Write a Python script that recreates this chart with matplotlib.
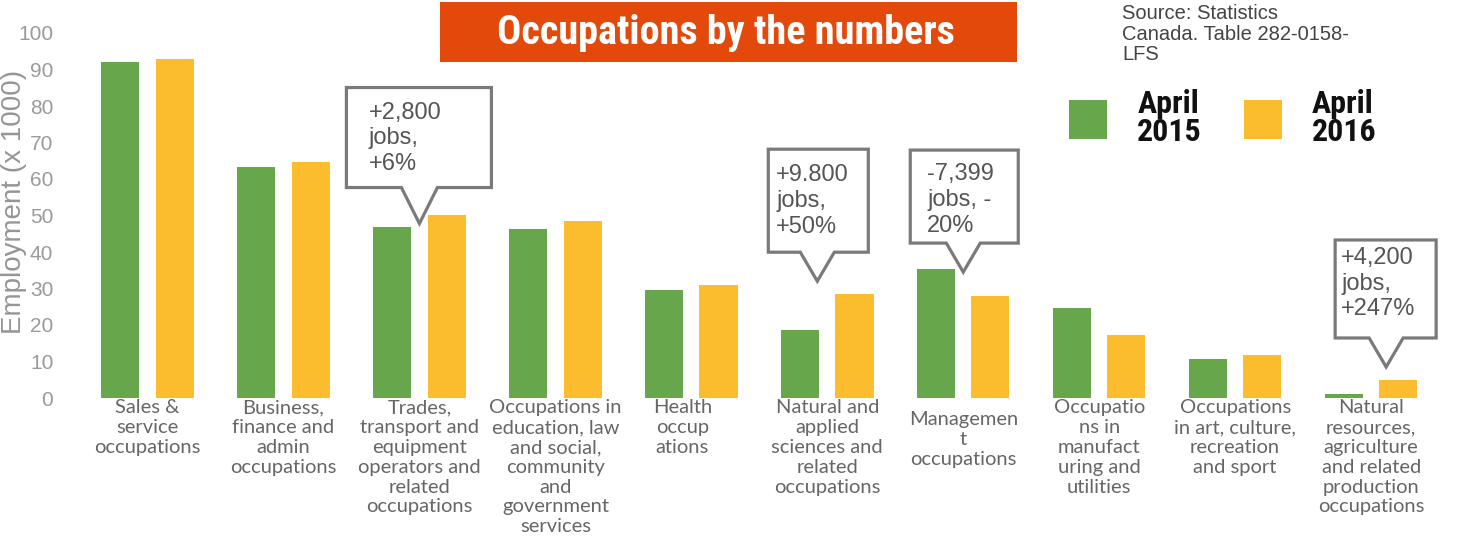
import matplotlib
matplotlib.use("Agg")
import matplotlib.pyplot as plt
from matplotlib import font_manager
import numpy as np
from matplotlib.patches import Polygon, Rectangle
from matplotlib.transforms import IdentityTransform, ScaledTranslation

categories = [
    "Sales &\nservice\noccupations",
    "Business,\nfinance and\nadmin\noccupations",
    "Trades,\ntransport and\nequipment\noperators and\nrelated\noccupations",
    "Occupations in\neducation, law\nand social,\ncommunity\nand\ngovernment\nservices",
    "Health\noccup\nations",
    "Natural and\napplied\nsciences and\nrelated\noccupations",
    "Managemen\nt\noccupations",
    "Occupatio\nns in\nmanufact\nuring and\nutilities",
    "Occupations\nin art, culture,\nrecreation\nand sport",
    "Natural\nresources,\nagriculture\nand related\nproduction\noccupations",
]
april_2015 = [92.0, 63.4, 46.9, 46.3, 29.6, 18.6, 35.3, 24.6, 10.7, 1.0]
april_2016 = [92.8, 64.6, 50.1, 48.5, 31.0, 28.5, 27.9, 17.3, 11.8, 4.8]
series_labels = ["April\n2015", "April\n2016"]
yticks = list(range(0, 101, 10))

# callouts: category index, tip height (data units), text
callout_idx = [2, 5, 6, 9]
callout_tip = [47.8, 32.0, 34.5, 8.5]
callout_text = ["+2,800\njobs,\n+6%", "+9.800\njobs,\n+50%", "-7,399\njobs, -\n20%", "+4,200\njobs,\n+247%"]

GREEN = "#68A64C"
ORANGE = "#FBBD2E"
TITLE_BG = "#E2490B"

available = {f.name for f in font_manager.fontManager.ttflist}


def pick(cands):
    for c in cands:
        if c in available:
            return [c, "DejaVu Sans"]
    return ["DejaVu Sans"]


COND = pick(["Roboto Condensed", "Open Sans Condensed", "Liberation Sans Narrow",
             "DejaVu Sans Condensed", "Noto Sans Condensed"])
ARIAL = pick(["Liberation Sans", "DejaVu Sans"])
GEO = pick(["Lato", "DejaVu Sans"])

W, H = 1463, 541
fig = plt.figure(figsize=(W / 100, H / 100), dpi=100)
fig.patch.set_facecolor("white")
ax = fig.add_axes([70 / W, (H - 398) / H, 1380 / W, 365 / H])

x = np.arange(len(categories))
bw = 0.28
off = 0.2
b1 = ax.bar(x - off, april_2015, bw, color=GREEN, label=series_labels[0])
b2 = ax.bar(x + off, april_2016, bw, color=ORANGE, label=series_labels[1])

ax.set_xlim(-0.57, 9.58)
ax.set_ylim(0, 100)
for s in ax.spines.values():
    s.set_visible(False)
ax.set_yticks(yticks)
ax.set_yticklabels([str(t) for t in yticks], family=ARIAL, fontsize=15, color="#9a9a9a")
ax.tick_params(axis="y", length=0, pad=12)
ax.set_xticks(x)
ax.set_xticklabels(categories, family=GEO, fontsize=14.5, color="#666666", linespacing=1.2)
ax.tick_params(axis="x", length=0, pad=1)
ax.set_ylabel("Employment (x 1000)", family=ARIAL, fontsize=20, color="#959595")
ax.yaxis.set_label_coords(-0.031, 0.537)

# title
fig.patches.append(Rectangle((440 / W, (H - 62) / H), 577 / W, 60 / H, transform=fig.transFigure,
                             facecolor=TITLE_BG, edgecolor="none", zorder=1))
fig.text(726 / W, 1 - 33 / H, "Occupations by the numbers", ha="center", va="center",
         color="white", fontsize=29, fontweight="bold", family=COND, zorder=2)

# source
fig.text(1122 / W, 1 - 4 / H, "Source: Statistics\nCanada. Table 282-0158-\nLFS", ha="left", va="top",
         fontsize=14.5, color="#444444", family=ARIAL, linespacing=1.1)

# legend
leg = fig.legend(handles=[b1, b2], labels=series_labels, loc="upper left",
                 bbox_to_anchor=(1069 / W, 1 - 89 / H), ncol=2, frameon=False,
                 prop={"family": COND, "weight": "bold", "size": 23},
                 handlelength=1.19, handleheight=1.5, handletextpad=0.95, columnspacing=1.3,
                 borderpad=0, borderaxespad=0)
for t in leg.get_texts():
    t.set_linespacing(0.92)
    t.set_color("#111111")

fig.canvas.draw()

# small per-label position nudges (px) to mimic the reference layout
label_shift = {4: (-9, 0), 6: (0, -12)}
ticks = ax.xaxis.get_major_ticks()
for k, (dx, dy) in label_shift.items():
    lab = ticks[k].label1
    lab.set_transform(lab.get_transform() + ScaledTranslation(dx / 100, dy / 100, fig.dpi_scale_trans))

# callouts
box_geom = [  # left, right, height, pointer drop, pointer half width, text pad left, text pad top (px)
    (73, 72, 100, 36, 18, 22, 14),
    (49, 51, 103, 29, 17, 8, 15),
    (53, 55, 93, 29, 17, 17, 13),
    (51, 50, 98, 29, 17, 6, 7),
]
for i, tip_val, txt, g in zip(callout_idx, callout_tip, callout_text, box_geom):
    tx, ty = ax.transData.transform((x[i], tip_val))
    if i == 5:
        tx -= 10
    if i == 9:
        tx += 15
    l, r, h, drop, hw, pl, pt = g
    by = ty + drop
    verts = [(tx, ty), (tx + hw, by), (tx + r, by), (tx + r, by + h), (tx - l, by + h), (tx - l, by),
             (tx - hw, by)]
    poly = Polygon(verts, closed=True, transform=IdentityTransform(), facecolor="white",
                   edgecolor="#7a7a7a", linewidth=2.3, zorder=5, joinstyle="miter")
    fig.patches.append(poly)
    fig.text((tx - l + pl) / W, (by + h - pt) / H, txt, ha="left", va="top", fontsize=17,
             color="#555555", family=ARIAL, linespacing=1.22, zorder=6)

fig.savefig("out.png", dpi=100)
